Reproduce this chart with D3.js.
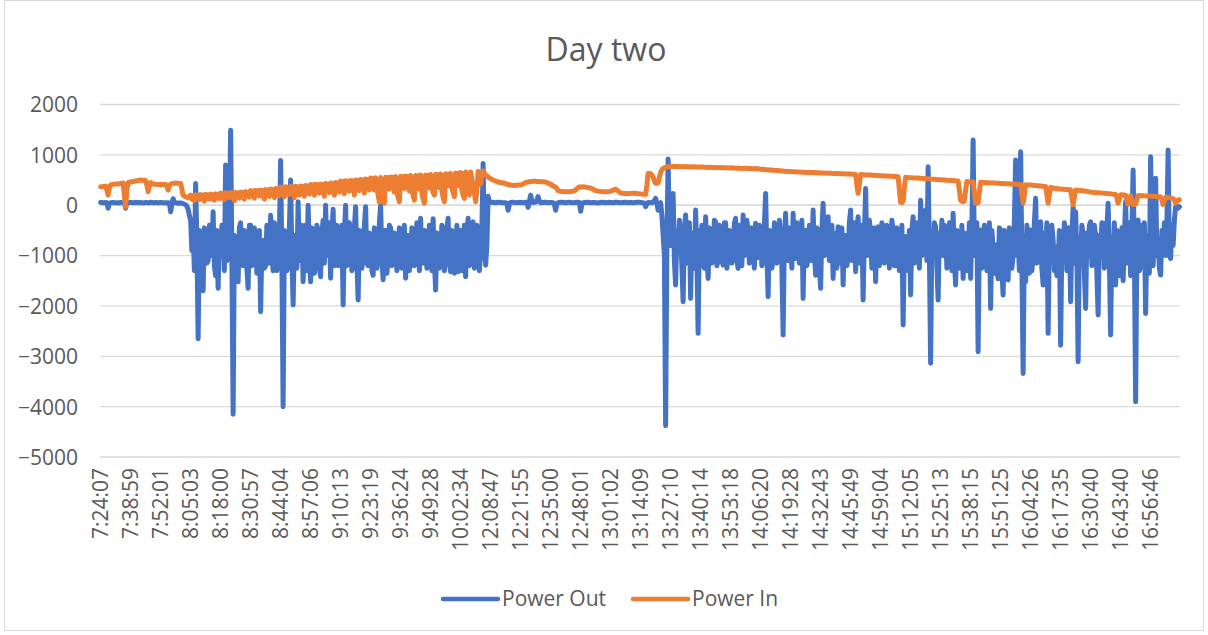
<!DOCTYPE html>
<html>
<head>
<meta charset="utf-8">
<script src="https://cdn.jsdelivr.net/npm/d3@7"></script>
<style>
  body { margin: 0; background: #fff; }
  svg text { font-family: "Open Sans", sans-serif; fill: #595959; }
</style>
</head>
<body>
<svg id="chart" width="1208" height="635"></svg>
<script>
const chartTitle = "Day two";
const seriesNames = ["Power Out", "Power In"];
const seriesColors = ["#4472C4", "#ED7D31"];
const yTicks = [2000, 1000, 0, -1000, -2000, -3000, -4000, -5000];
const labelEvery = 24;
const tickLabels = [
  "7:24:07", "7:38:59", "7:52:01", "8:05:03", "8:18:00", "8:30:57", "8:44:04", "8:57:06",
  "9:10:13", "9:23:19", "9:36:24", "9:49:28", "10:02:34", "12:08:47", "12:21:55", "12:35:00",
  "12:48:01", "13:01:02", "13:14:09", "13:27:10", "13:40:14", "13:53:18", "14:06:20", "14:19:28",
  "14:32:43", "14:45:49", "14:59:04", "15:12:05", "15:25:13", "15:38:15", "15:51:25", "16:04:26",
  "16:17:35", "16:30:40", "16:43:40", "16:56:46"
];

// Power Out (W), one row per labelled interval
const powerOut = [
  55,52,50,48,55,50,-60,40,50,52,55,50,50,48,45,50,55,52,50,48,-60,45,50,52,
  55,52,50,48,60,55,50,52,55,50,45,48,55,52,50,50,60,55,50,48,55,52,50,50,
  55,52,50,48,45,48,50,45,-130,20,130,60,50,45,40,45,45,40,30,20,10,-20,-80,-200,
  -300,-900,-500,-1300,430,-700,-2650,-500,-700,-1250,-1700,-450,-600,-1150,-1100,-400,-450,-1000,-130,-1200,-1400,-500,-1650,-600,
  -1000,-400,-500,-1300,800,-1100,-900,-350,1490,-1000,-4150,-600,-700,-1350,-1520,-450,-350,-1100,-1200,-500,-600,-1250,-1650,-400,
  -400,-1200,-1100,-450,-600,-1350,-1300,-500,-2115,-800,-700,-1250,-1200,-400,-500,-1150,-200,-1000,-1300,-350,-700,-1300,-1100,-550,
  890,-1100,-4000,-500,-700,-1300,-1200,-450,500,-1000,-1980,-600,-600,-1250,70,-1100,-1100,-400,-1520,-700,-400,-1300,0,-1000,
  -1520,-450,-700,-1350,-1100,-400,-500,-1250,-1420,-550,-300,-1150,0,-1000,-1000,-350,-1450,-600,-80,-1200,-900,-400,-1200,-500,
  -1100,-400,-1980,-600,0,-1200,-900,-350,-500,-1300,-1200,-450,-30,-1100,-1880,-500,-700,-1250,-1000,-400,-30,-1150,-1200,-550,
  -600,-1300,-1390,-450,-700,-1250,-1000,-350,0,-1100,-1480,-500,-500,-1350,-1100,-400,-450,-1200,-1000,-550,-600,-1300,-1150,-450,
  -500,-1250,-1000,-400,-1450,-600,-600,-1300,-1100,-450,-500,-1200,-1050,-350,-700,-1300,-260,-1100,-1150,-500,-550,-1250,-1000,-400,
  -800,-1300,-270,-1100,-1685,-550,-600,-1250,-1100,-400,-500,-1300,-1000,-450,-260,-1150,-1320,-500,-600,-1350,-1050,-400,-1320,-600,
  -500,-1300,-1100,-400,-1420,-550,-260,-1200,-1000,-450,-330,-1250,-1120,-400,-500,-1300,-900,-450,830,-900,-1190,-800,180,60,
  60,58,55,52,50,55,60,58,55,52,50,48,50,40,-100,20,55,58,60,55,50,52,55,58,
  55,52,50,55,60,50,-40,80,200,90,55,58,60,100,170,80,50,52,55,58,60,55,50,52,
  55,52,50,20,-100,30,50,55,60,58,55,52,50,55,60,58,55,52,50,52,55,58,60,55,
  -120,20,50,52,55,58,60,55,50,52,55,52,50,48,45,50,55,58,60,55,50,52,55,58,
  55,52,50,55,60,58,55,52,50,52,55,58,60,55,50,52,55,52,50,52,55,58,60,58,
  55,52,50,40,-30,20,55,52,50,55,60,90,135,30,-100,20,50,-200,-590,-1000,-4380,-800,920,-600,
  -800,-400,235,-1100,-1585,-500,-900,-300,-600,-1200,-1916,-450,-195,-1150,-1000,-350,-1850,-550,-600,-1250,-96,-1000,-2545,-500,
  -1200,-400,-700,-1250,-230,-1050,-1453,-450,-600,-1150,-1000,-300,-330,-1200,-1100,-400,-500,-1100,-1188,-350,-350,-1250,-1000,-500,
  -600,-1150,-1000,-350,-260,-1100,-1254,-400,-700,-1200,-195,-1000,-900,-300,-550,-1150,-1050,-450,-700,-1250,-360,-1050,-1000,-400,
  -600,-1200,-1000,-400,235,-1000,-1817,-500,-700,-1250,-1100,-350,-530,-1150,-1000,-300,-700,-1200,-2578,-600,-160,-1100,-1100,-450,
  -700,-1250,-160,-1000,-1056,-350,-600,-1150,-1000,-300,-1850,-550,-500,-1200,-1050,-400,-700,-1100,-96,-950,-1390,-450,-600,-1200,
  -1651,-500,37,-1000,-900,-350,-230,-1100,-1000,-400,-1453,-550,-600,-1250,-427,-1150,-1100,-450,-1585,-600,-600,-1200,-1000,-350,
  -96,-1100,-900,-350,-1320,-500,-230,-1150,-1000,-400,-1883,-600,334,-1000,-900,-300,-600,-1250,-1100,-450,-1520,-550,-430,-1200,
  -1000,-350,-460,-1150,-1100,-400,-430,-1250,-900,-300,-500,-1200,-1200,-450,-700,-1300,-1000,-400,-2380,-700,-625,-1250,-1300,-500,
  -1783,-500,-230,-1150,-1100,-350,-600,-1250,100,-1000,-900,-300,-96,-1100,765,-900,-3140,-600,-1000,-350,-427,-1200,-1883,-550,
  -900,-300,-1000,-400,-493,-1250,-1100,-350,-700,-1300,-160,-1100,-1585,-500,-700,-1250,-1100,-400,-1453,-550,-600,-1300,-1000,-350,
  -1453,-450,1294,-1000,-1000,-350,-2909,-600,-493,-1250,-1100,-400,-700,-1300,-1000,-350,-2049,-500,-857,-1350,-790,-1250,-1460,-450,
  -493,-1300,-1783,-500,-600,-1350,-1486,-450,-592,-1250,-1000,-300,897,-1000,-700,-1300,1063,-1100,-3340,-600,-1519,-400,-800,-1350,
  -493,-1300,-1000,-350,136,-1150,-900,-400,-330,-1250,-1585,-550,-900,-350,-2545,-600,-1100,-400,-700,-1300,-824,-1400,-1200,-500,
  -2780,-700,-1000,-350,-493,-1300,-1200,-450,-1916,-600,-30,-1150,-129,-1000,-3108,-650,-1000,-400,-600,-1350,-2049,-550,-1000,-400,
  -330,-1200,-1000,-400,-600,-1350,-2181,-600,-900,-350,-360,-1250,-1100,-450,37,-1100,-2578,-700,-1000,-350,-1585,-500,-923,-1400,
  -1200,-450,-1500,-600,70,-1150,-1000,-350,-1400,-500,698,-1000,-3902,-800,-294,-1300,-1200,-400,-1000,-350,-2148,-600,-900,-1350,
  963,-1100,-1200,-450,533,-1000,-658,-1250,-1387,-500,-900,-350,-1000,-400,1096,-1000,-1056,-400,-800,-300,-30,-20,-60,-30
];

// Power In (W)
const powerIn = [
  367,368,370,372,380,300,200,350,400,410,414,418,420,422,425,428,430,435,440,200,-30,300,450,455,
  460,465,470,475,480,485,490,495,500,498,495,492,490,400,268,380,450,430,420,416,414,412,410,412,
  414,412,410,412,414,380,300,390,420,428,434,438,440,436,434,432,430,320,200,180,170,160,150,170,
  200,120,190,90,205,140,195,110,210,130,200,80,215,140,205,120,220,130,210,100,225,150,215,130,
  240,150,230,110,245,170,235,150,250,160,240,90,255,170,245,140,260,170,250,120,270,190,260,160,
  290,190,280,140,295,210,285,180,300,200,290,120,310,220,300,170,320,230,310,150,330,240,320,190,
  360,240,350,170,365,260,355,210,370,250,360,150,375,270,365,200,380,270,370,180,390,280,380,220,
  410,280,400,200,415,300,405,240,420,290,410,180,430,320,420,250,440,330,430,200,450,340,440,260,
  480,340,470,230,485,360,475,280,490,350,480,200,500,380,490,290,510,390,500,240,520,400,510,300,
  540,400,530,300,545,380,200,60,550,300,150,40,555,420,545,320,560,430,550,260,570,300,150,70,
  575,440,565,330,580,450,570,280,590,300,200,100,590,460,580,320,600,250,120,40,600,470,590,340,
  610,400,250,200,615,480,605,350,620,300,150,70,625,500,615,380,630,350,250,170,640,500,630,380,
  650,300,200,136,660,350,250,200,660,520,400,250,70,300,670,520,420,600,680,640,600,580,560,540,
  530,515,500,490,480,470,460,455,450,445,440,435,430,420,410,405,400,398,395,392,390,395,400,400,
  400,410,420,435,450,455,460,465,470,472,475,476,475,472,470,469,468,466,465,462,460,450,440,430,
  420,400,380,370,360,330,290,280,275,272,270,269,268,266,265,268,270,275,280,290,300,330,350,360,
  360,362,365,362,360,355,350,345,340,330,320,300,290,285,280,275,270,269,268,266,265,268,270,272,
  275,290,300,310,320,300,280,260,240,238,235,233,232,231,230,232,235,238,240,236,232,231,230,228,
  225,222,220,218,215,400,632,630,625,600,560,480,434,436,440,550,650,700,732,745,755,760,765,768,
  770,772,768,770,772,768,765,768,770,766,762,765,768,766,765,762,760,762,763,760,758,760,760,758,
  755,757,758,755,752,751,750,752,754,750,748,749,750,747,745,747,748,745,742,744,745,742,740,741,
  742,740,738,737,735,736,738,735,732,731,730,732,734,731,728,729,730,727,725,726,728,725,722,718,
  714,712,710,708,706,705,702,700,699,698,695,692,690,688,687,685,682,680,678,675,672,670,669,668,
  668,667,665,664,662,661,660,660,658,657,655,654,652,651,650,649,648,649,650,647,645,646,645,643,
  642,641,640,639,638,637,635,636,635,633,632,631,630,629,628,627,625,626,625,623,622,621,620,619,
  618,617,615,613,612,400,235,420,610,608,605,604,602,601,600,599,598,597,595,593,590,589,588,587,
  585,584,582,581,580,579,578,576,575,574,572,571,570,568,565,300,60,50,80,350,555,552,548,547,
  545,544,542,541,540,539,538,537,535,533,530,529,528,527,525,523,520,518,515,514,512,510,508,507,
  505,504,502,501,500,498,495,494,492,491,490,488,485,483,480,300,100,80,70,90,300,470,468,465,
  462,461,460,250,40,35,50,250,455,452,450,449,448,446,445,444,442,441,440,439,438,436,435,434,
  432,431,430,429,428,426,425,424,422,421,420,419,418,416,415,414,412,250,40,200,405,404,402,401,
  400,398,395,392,390,388,385,382,380,378,375,372,370,200,40,200,355,350,345,338,330,328,325,322,
  320,318,315,314,312,310,308,306,305,150,10,150,300,298,295,292,290,288,285,282,280,275,270,265,
  260,258,255,253,250,249,248,246,245,242,240,238,235,232,230,228,225,222,220,218,215,150,40,120,
  210,208,205,203,200,100,20,100,190,100,15,15,25,100,195,192,190,189,188,186,185,184,182,181,
  180,179,178,176,175,172,170,169,168,100,15,100,160,155,150,145,140,135,130,100,40,70,105,110
];

const W = 1208, H = 635;
const plot = { left: 100, right: 1180, top: 104.5, bottom: 457 };
const svg = d3.select("#chart");

// chart area frame
svg.append("rect")
  .attr("x", 4.5).attr("y", 0.5).attr("width", W - 9).attr("height", H - 5)
  .attr("fill", "#fff").attr("stroke", "#d9d9d9").attr("stroke-width", 1);

const idx = d3.range(powerOut.length);
const x = d3.scalePoint().domain(idx).range([plot.left, plot.right]).padding(0.5);
const y = d3.scaleLinear().domain([-5000, 2000]).range([plot.bottom, plot.top]);

// horizontal gridlines
svg.append("g").selectAll("line").data(yTicks).join("line")
  .attr("x1", plot.left).attr("x2", plot.right)
  .attr("y1", d => y(d)).attr("y2", d => y(d))
  .attr("stroke", "#d9d9d9").attr("stroke-width", 1.3);

// value axis labels
const yAxis = d3.axisLeft(y).tickValues(yTicks).tickSize(0).tickPadding(0).tickFormat(d3.format("d"));
const gy = svg.append("g").attr("transform", `translate(${plot.left - 22},0)`).call(yAxis);
gy.select(".domain").remove();
gy.selectAll("text").attr("font-size", 21).attr("fill", "#595959")
  .style("font-family", "'Open Sans', sans-serif").attr("dy", "0.35em");

// category axis line at zero
svg.append("line").attr("x1", plot.left).attr("x2", plot.right)
  .attr("y1", y(0)).attr("y2", y(0)).attr("stroke", "#d9d9d9").attr("stroke-width", 1.3);

// category labels, rotated
const xTickIdx = tickLabels.map((_, j) => j * labelEvery);
const xAxis = d3.axisBottom(x).tickValues(xTickIdx).tickSize(0)
  .tickFormat(d => tickLabels[d / labelEvery]);
const gx = svg.append("g").attr("transform", `translate(0,${plot.bottom + 11})`).call(xAxis);
gx.select(".domain").remove();
gx.selectAll("text")
  .attr("font-size", 21).attr("fill", "#595959")
  .style("font-family", "'Open Sans', sans-serif")
  .attr("text-anchor", "end")
  .attr("transform", "rotate(-90)")
  .attr("x", 0).attr("y", 0).attr("dx", 0).attr("dy", "0.35em");

// series lines
const line = d3.line().x((d, i) => x(i)).y(d => y(d));
[powerOut, powerIn].forEach((vals, k) => {
  svg.append("path").datum(vals)
    .attr("d", line)
    .attr("fill", "none")
    .attr("stroke", seriesColors[k])
    .attr("stroke-width", 5)
    .attr("stroke-linejoin", "round")
    .attr("stroke-linecap", "round");
});

// title
svg.append("text").attr("x", 606).attr("y", 61)
  .attr("text-anchor", "middle").attr("font-size", 32).text(chartTitle);

// legend
const legend = [
  { x0: 443, x1: 498, tx: 502 },
  { x0: 633, x1: 688, tx: 692 }
];
legend.forEach((l, k) => {
  svg.append("line").attr("x1", l.x0).attr("x2", l.x1).attr("y1", 599).attr("y2", 599)
    .attr("stroke", seriesColors[k]).attr("stroke-width", 4.5).attr("stroke-linecap", "round");
  svg.append("text").attr("x", l.tx).attr("y", 606).attr("font-size", 21).text(seriesNames[k]);
});
</script>
</body>
</html>
